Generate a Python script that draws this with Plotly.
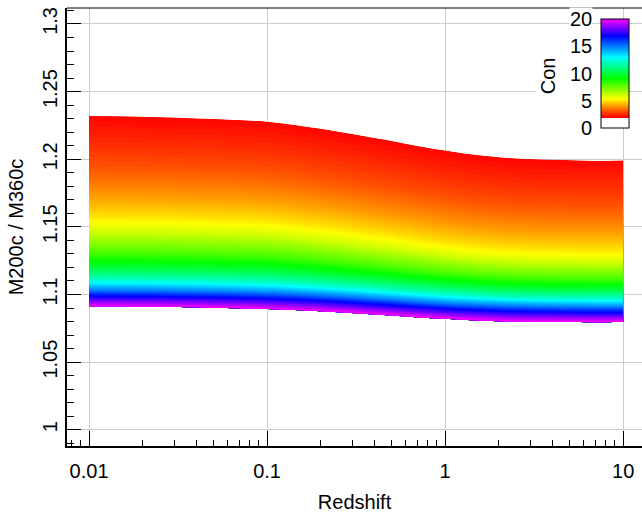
import plotly.graph_objects as go

# Redshift columns and halo concentration rows of the M200c / M360c table
redshift = [0.01, 0.02, 0.05, 0.1, 0.2, 0.5, 1, 2, 5, 10]
concentration = [2, 3, 4, 5, 6, 8, 10, 12, 15, 20]

ratio_c2 = [1.2320, 1.2314, 1.2297, 1.2278, 1.2225, 1.2135, 1.2064, 1.2015, 1.1993, 1.1990]
ratio_c3 = [1.1953, 1.1948, 1.1934, 1.1918, 1.1870, 1.1790, 1.1727, 1.1683, 1.1664, 1.1662]
ratio_c4 = [1.1731, 1.1726, 1.1714, 1.1699, 1.1655, 1.1581, 1.1523, 1.1481, 1.1465, 1.1463]
ratio_c5 = [1.1573, 1.1569, 1.1557, 1.1544, 1.1503, 1.1435, 1.1381, 1.1342, 1.1327, 1.1325]
ratio_c6 = [1.1464, 1.1460, 1.1449, 1.1437, 1.1400, 1.1337, 1.1287, 1.1251, 1.1238, 1.1236]
ratio_c8 = [1.1308, 1.1305, 1.1296, 1.1285, 1.1254, 1.1202, 1.1161, 1.1132, 1.1120, 1.1118]
ratio_c10 = [1.1199, 1.1196, 1.1188, 1.1178, 1.1152, 1.1108, 1.1073, 1.1050, 1.1038, 1.1037]
ratio_c12 = [1.1114, 1.1111, 1.1103, 1.1093, 1.1072, 1.1034, 1.1005, 1.0985, 1.0975, 1.0973]
ratio_c15 = [1.1030, 1.1027, 1.1020, 1.1011, 1.0993, 1.0960, 1.0933, 1.0917, 1.0907, 1.0905]
ratio_c20 = [1.0911, 1.0909, 1.0902, 1.0892, 1.0877, 1.0845, 1.0820, 1.0802, 1.0797, 1.0796]

ratio_rows = [ratio_c2, ratio_c3, ratio_c4, ratio_c5, ratio_c6,
              ratio_c8, ratio_c10, ratio_c12, ratio_c15, ratio_c20]

x_ticks = [0.01, 0.1, 1, 10]
x_ticktext = ["0.01", "0.1", "1", "10"]
con_ticks = [0, 5, 10, 15, 20]
con_range = [0, 20]

# Rainbow colour map anchored on concentration values
hue_c = [2, 5.35, 9.1, 12.95, 16.85, 20]
hue_col = ["#ff0000", "#ffff00", "#00ff00", "#00ffff", "#0000ff", "#ff00ff"]

c_lo, c_hi = min(concentration), max(concentration)
band_scale = [[(c - c_lo) / (c_hi - c_lo), col] for c, col in zip(hue_c, hue_col)]
span = con_range[1] - con_range[0]
bar_scale = [[0.0, "#ffffff"], [(hue_c[0] - 0.2) / span - 1e-4, "#ffffff"],
             [(hue_c[0] - 0.2) / span, hue_col[0]]]
bar_scale += [[c / span, col] for c, col in zip(hue_c, hue_col)]

# ---- figure geometry (pixels) ----
W, H = 642, 513
ML, MR, MT, MB = 67, 0, 8, 67
PW, PH = W - ML - MR, H - MT - MB


def fx(px):
    return (px - ML) / PW


def fy(py):
    return (H - MB - py) / PH


FONT = "Liberation Sans, Arial, sans-serif"
GRID = "#cccccc"

fig = go.Figure()

hidden_ax = dict(showgrid=False, showline=False, showticklabels="none",
                 startline=False, endline=False, minorgridcount=0,
                 smoothing=1)

fig.add_trace(go.Carpet(
    carpet="band",
    a=redshift,
    b=concentration,
    x=[redshift for _ in concentration],
    y=ratio_rows,
    aaxis=hidden_ax,
    baxis=hidden_ax,
))

fig.add_trace(go.Contourcarpet(
    carpet="band",
    a=redshift,
    b=concentration,
    z=[[c] * len(redshift) for c in concentration],
    contours=dict(start=c_lo, end=c_hi, size=0.1, coloring="fill", showlines=False),
    line=dict(width=0),
    colorscale=band_scale,
    showscale=False,
))

# colour bar for the concentration scale
fig.add_trace(go.Scatter(
    x=[None] * len(con_ticks), y=[None] * len(con_ticks),
    xaxis="x2", yaxis="y2", mode="markers", showlegend=False,
    marker=dict(
        color=con_ticks, cmin=con_range[0], cmax=con_range[1],
        colorscale=bar_scale, showscale=True,
        colorbar=dict(
            x=fx(601), xanchor="left", xpad=0,
            y=fy(19), yanchor="top", ypad=0,
            len=109, lenmode="pixels",
            thickness=28, thicknessmode="pixels",
            outlinewidth=1, outlinecolor="black",
            showticklabels=False, ticks="",
            bgcolor="rgba(0,0,0,0)",
        ),
    ),
))

fig.update_layout(
    width=W, height=H,
    margin=dict(l=ML, r=MR, t=MT, b=MB, pad=0),
    paper_bgcolor="white", plot_bgcolor="white",
    font=dict(family=FONT, size=20, color="black"),
    showlegend=False,
    xaxis=dict(
        type="log", range=[-2.124, 1.106],
        tickvals=x_ticks, ticktext=x_ticktext,
        ticks="inside", ticklen=15, tickwidth=1, tickcolor="black",
        showline=True, linewidth=2, linecolor="black",
        showgrid=True, gridcolor=GRID, gridwidth=1, zeroline=False,
        minor=dict(tickvals=[k * 10.0 ** n for n in range(-3, 2) for k in range(2, 10)],
                   ticks="inside", ticklen=6, tickwidth=1, tickcolor="black",
                   showgrid=False),
        title=dict(text="Redshift", font=dict(size=20), standoff=14),
        tickfont=dict(size=20),
        ticklabelstandoff=6,
    ),
    yaxis=dict(
        range=[0.988, 1.3118], tick0=1, dtick=0.05,
        tickformat="~g",
        ticks="inside", ticklen=14, tickwidth=1, tickcolor="black",
        showline=True, linewidth=2, linecolor="black",
        showgrid=True, gridcolor=GRID, gridwidth=1, zeroline=False,
        minor=dict(dtick=0.01, ticks="inside", ticklen=7, tickwidth=1,
                   tickcolor="black", showgrid=False),
        tickangle=-90,
        tickfont=dict(size=20),
        title=dict(text="M200c / M360c", font=dict(size=20), standoff=10),
    ),
    xaxis2=dict(domain=[fx(601), fx(629)], anchor="y2", range=[0, 1], visible=False),
    yaxis2=dict(domain=[fy(128), fy(19)], anchor="x2", range=con_range, visible=False),
)

# plot frame top edge
fig.add_shape(type="line", xref="paper", yref="paper", x0=0, x1=1, y0=1, y1=1,
              line=dict(color="black", width=1))

# white backing behind the colour-bar title and labels
fig.add_shape(type="rect", xref="paper", yref="paper", layer="above",
              x0=fx(538), x1=fx(600), y0=fy(136), y1=fy(48),
              fillcolor="white", line=dict(width=0))

# colour-bar tick labels and title
for v in con_ticks:
    fig.add_annotation(text=str(v), xref="paper", yref="y2", x=fx(593), y=v,
                       xanchor="right", yanchor="middle", showarrow=False,
                       bgcolor="white", borderpad=0, font=dict(size=20))
fig.add_annotation(text="Con", xref="paper", yref="y2", x=fx(548), y=9.5,
                   xanchor="center", yanchor="middle", textangle=-90,
                   showarrow=False, bgcolor="white", borderpad=0,
                   font=dict(size=20))

fig.write_html("out.html")
